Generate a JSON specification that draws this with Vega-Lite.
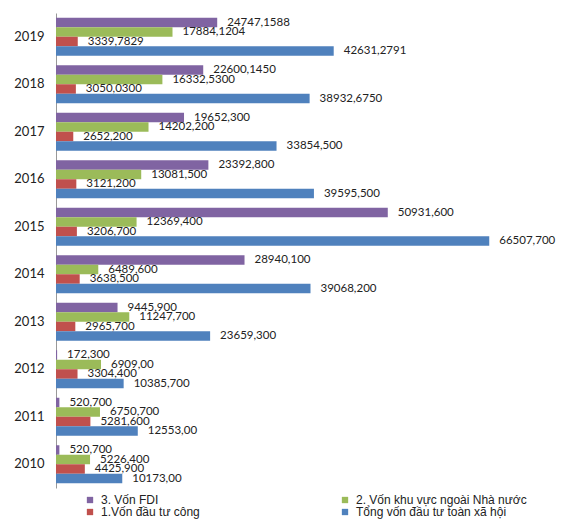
{
  "$schema": "https://vega.github.io/schema/vega-lite/v6.json",
  "width": 456,
  "height": 475,
  "padding": {"left": 13, "top": 13, "right": 5, "bottom": 5},
  "background": "white",
  "data": {
    "values": [
      {"year": "2019", "series": "3. Vốn FDI", "value": 24747.1588, "label": "24747,1588"},
      {"year": "2019", "series": "2. Vốn khu vực ngoài Nhà nước", "value": 17884.1204, "label": "17884,1204"},
      {"year": "2019", "series": "1.Vốn đầu tư công", "value": 3339.7829, "label": "3339,7829"},
      {"year": "2019", "series": "Tổng vốn đầu tư toàn xã hội", "value": 42631.2791, "label": "42631,2791"},
      {"year": "2018", "series": "3. Vốn FDI", "value": 22600.145, "label": "22600,1450"},
      {"year": "2018", "series": "2. Vốn khu vực ngoài Nhà nước", "value": 16332.53, "label": "16332,5300"},
      {"year": "2018", "series": "1.Vốn đầu tư công", "value": 3050.03, "label": "3050,0300"},
      {"year": "2018", "series": "Tổng vốn đầu tư toàn xã hội", "value": 38932.675, "label": "38932,6750"},
      {"year": "2017", "series": "3. Vốn FDI", "value": 19652.3, "label": "19652,300"},
      {"year": "2017", "series": "2. Vốn khu vực ngoài Nhà nước", "value": 14202.2, "label": "14202,200"},
      {"year": "2017", "series": "1.Vốn đầu tư công", "value": 2652.2, "label": "2652,200"},
      {"year": "2017", "series": "Tổng vốn đầu tư toàn xã hội", "value": 33854.5, "label": "33854,500"},
      {"year": "2016", "series": "3. Vốn FDI", "value": 23392.8, "label": "23392,800"},
      {"year": "2016", "series": "2. Vốn khu vực ngoài Nhà nước", "value": 13081.5, "label": "13081,500"},
      {"year": "2016", "series": "1.Vốn đầu tư công", "value": 3121.2, "label": "3121,200"},
      {"year": "2016", "series": "Tổng vốn đầu tư toàn xã hội", "value": 39595.5, "label": "39595,500"},
      {"year": "2015", "series": "3. Vốn FDI", "value": 50931.6, "label": "50931,600"},
      {"year": "2015", "series": "2. Vốn khu vực ngoài Nhà nước", "value": 12369.4, "label": "12369,400"},
      {"year": "2015", "series": "1.Vốn đầu tư công", "value": 3206.7, "label": "3206,700"},
      {"year": "2015", "series": "Tổng vốn đầu tư toàn xã hội", "value": 66507.7, "label": "66507,700"},
      {"year": "2014", "series": "3. Vốn FDI", "value": 28940.1, "label": "28940,100"},
      {"year": "2014", "series": "2. Vốn khu vực ngoài Nhà nước", "value": 6489.6, "label": "6489,600"},
      {"year": "2014", "series": "1.Vốn đầu tư công", "value": 3638.5, "label": "3638,500"},
      {"year": "2014", "series": "Tổng vốn đầu tư toàn xã hội", "value": 39068.2, "label": "39068,200"},
      {"year": "2013", "series": "3. Vốn FDI", "value": 9445.9, "label": "9445,900"},
      {"year": "2013", "series": "2. Vốn khu vực ngoài Nhà nước", "value": 11247.7, "label": "11247,700"},
      {"year": "2013", "series": "1.Vốn đầu tư công", "value": 2965.7, "label": "2965,700"},
      {"year": "2013", "series": "Tổng vốn đầu tư toàn xã hội", "value": 23659.3, "label": "23659,300"},
      {"year": "2012", "series": "3. Vốn FDI", "value": 172.3, "label": "172,300"},
      {"year": "2012", "series": "2. Vốn khu vực ngoài Nhà nước", "value": 6909, "label": "6909,00"},
      {"year": "2012", "series": "1.Vốn đầu tư công", "value": 3304.4, "label": "3304,400"},
      {"year": "2012", "series": "Tổng vốn đầu tư toàn xã hội", "value": 10385.7, "label": "10385,700"},
      {"year": "2011", "series": "3. Vốn FDI", "value": 520.7, "label": "520,700"},
      {"year": "2011", "series": "2. Vốn khu vực ngoài Nhà nước", "value": 6750.7, "label": "6750,700"},
      {"year": "2011", "series": "1.Vốn đầu tư công", "value": 5281.6, "label": "5281,600"},
      {"year": "2011", "series": "Tổng vốn đầu tư toàn xã hội", "value": 12553, "label": "12553,00"},
      {"year": "2010", "series": "3. Vốn FDI", "value": 520.7, "label": "520,700"},
      {"year": "2010", "series": "2. Vốn khu vực ngoài Nhà nước", "value": 5226.4, "label": "5226,400"},
      {"year": "2010", "series": "1.Vốn đầu tư công", "value": 4425.9, "label": "4425,900"},
      {"year": "2010", "series": "Tổng vốn đầu tư toàn xã hội", "value": 10173, "label": "10173,00"}
    ]
  },
  "encoding": {
    "y": {
      "field": "year",
      "type": "nominal",
      "sort": "descending",
      "title": null,
      "scale": {"paddingInner": 0.2, "paddingOuter": 0.1},
      "axis": {
        "ticks": false,
        "domainColor": "#999999",
        "labelPadding": 12,
        "labelFont": "Lato",
        "labelFontSize": 13,
        "labelColor": "#222222"
      }
    },
    "yOffset": {
      "field": "series",
      "sort": ["3. Vốn FDI", "2. Vốn khu vực ngoài Nhà nước", "1.Vốn đầu tư công", "Tổng vốn đầu tư toàn xã hội"]
    },
    "x": {
      "field": "value",
      "type": "quantitative",
      "scale": {"domain": [0, 70000], "nice": false},
      "axis": null
    }
  },
  "layer": [
    {
      "mark": {"type": "bar"},
      "encoding": {
        "color": {
          "field": "series",
          "type": "nominal",
          "scale": {
            "domain": ["3. Vốn FDI", "1.Vốn đầu tư công", "2. Vốn khu vực ngoài Nhà nước", "Tổng vốn đầu tư toàn xã hội"],
            "range": ["#8064A2", "#C0504D", "#9BBB59", "#4F81BD"]
          },
          "legend": {
            "title": null,
            "orient": "none",
            "legendX": 28,
            "legendY": 481,
            "columns": 2,
            "columnPadding": 139,
            "rowPadding": -4,
            "symbolType": "square",
            "symbolSize": 40,
            "symbolOffset": 0,
            "labelOffset": 5,
            "labelLimit": 300,
            "labelFont": "Liberation Sans",
            "labelFontSize": 12,
            "labelColor": "#222222"
          }
        }
      }
    },
    {
      "mark": {"type": "text", "align": "left", "baseline": "middle", "dx": 10, "font": "Lato", "fontSize": 11.5, "color": "#222222"},
      "encoding": {
        "text": {"field": "label"}
      }
    }
  ],
  "config": {
    "view": {"stroke": null}
  }
}
